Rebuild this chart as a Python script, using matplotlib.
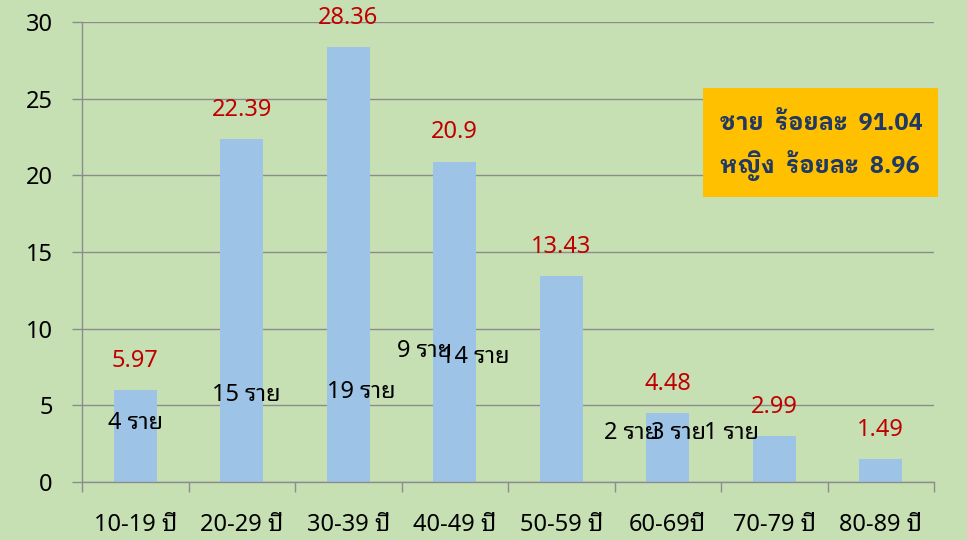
import matplotlib
matplotlib.use('Agg')
import matplotlib.pyplot as plt
import numpy as np

# Age groups and patient counts
age_groups = ['10-19 ปี', '20-29 ปี', '30-39 ปี', '40-49 ปี',
              '50-59 ปี', '60-69ปี', '70-79 ปี', '80-89 ปี']
percent = [5.97, 22.39, 28.36, 20.9, 13.43, 4.48, 2.99, 1.49]
count_labels = ['4 ราย', '15 ราย', '19 ราย', '9 ราย', '14 ราย',
                '2 ราย', '3 ราย', '1 ราย']
# where each count text box ended up on the chart (x in category units, y in %)
count_x = [0.0, 1.04, 2.12, 2.72, 3.19, 4.66, 5.1, 5.6]
count_y = [3.85, 5.67, 5.87, 8.54, 8.15, 3.2, 3.2, 3.2]
male_pct = 91.04
female_pct = 8.96

plt.rcParams['font.family'] = ['Noto Sans Thai Looped', 'Noto Sans', 'DejaVu Sans']
fs = 17

bg = '#C6E0B4'
fig = plt.figure(figsize=(9.67, 5.4), dpi=100, facecolor=bg)
ax = fig.add_axes([82 / 967, 58 / 540, 852 / 967, 460 / 540], facecolor=bg)

x = np.arange(len(age_groups))
ax.bar(x, percent, width=0.4, color='#9DC3E6', zorder=2)

for xi, v in zip(x, percent):
    ax.annotate(f'{v:g}', (xi, v), xytext=(0, 21), textcoords='offset points',
                ha='center', va='center', color='#C00000', fontsize=fs, zorder=4)

for cx, cy, lab in zip(count_x, count_y, count_labels):
    ax.text(cx, cy, lab, ha='center', va='center', fontsize=fs,
            color='black', zorder=4)

ax.set_xlim(-0.5, len(age_groups) - 0.5)
ax.set_ylim(0, 30)
ax.set_yticks(range(0, 31, 5))
ax.set_xticks(x)
ax.set_xticklabels(age_groups, fontsize=fs)
ax.set_xticks(np.arange(-0.5, len(age_groups)), minor=True)
ax.tick_params(axis='x', which='major', length=0, pad=22)
ax.tick_params(axis='x', which='minor', length=7, color='#8C8C8C', width=1)
ax.tick_params(axis='y', length=7, color='#8C8C8C', width=1, labelsize=fs,
               pad=14)
ax.grid(axis='y', color='#8C8C8C', linewidth=1, zorder=1)
for side in ['top', 'right']:
    ax.spines[side].set_visible(False)
for side in ['left', 'bottom']:
    ax.spines[side].set_color('#8C8C8C')
    ax.spines[side].set_linewidth(1)

# summary box for gender split
fig.patches.append(plt.Rectangle((703 / 967, 1 - 197 / 540), 235 / 967, 109 / 540,
                                 transform=fig.transFigure, facecolor='#FFC000',
                                 edgecolor='none', zorder=5))
box_font = ['IBM Plex Sans Thai Looped', 'Noto Sans Thai', 'DejaVu Sans']
fig.text(720 / 967, 1 - 124 / 540, f'ชาย  ร้อยละ  {male_pct}', fontsize=fs,
         fontweight='bold', family=box_font, color='#1F3864', va='center', zorder=6)
fig.text(720 / 967, 1 - 166 / 540, f'หญิง  ร้อยละ  {female_pct}', fontsize=fs,
         fontweight='bold', family=box_font, color='#1F3864', va='center', zorder=6)

fig.savefig('out.png', dpi=100, facecolor=bg)
